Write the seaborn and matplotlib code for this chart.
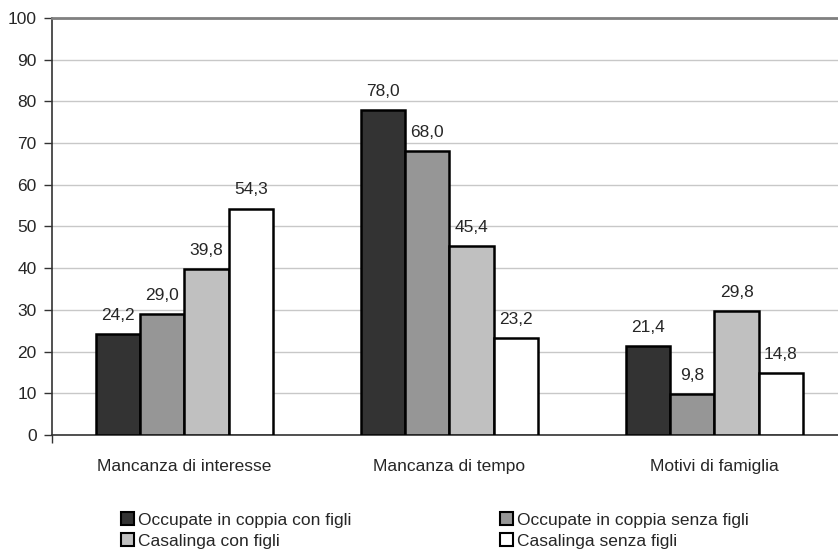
import matplotlib
matplotlib.use("Agg")
import matplotlib.pyplot as plt
import seaborn as sns
import pandas as pd
from matplotlib.patches import Patch

categorie = ["Mancanza di interesse", "Mancanza di tempo", "Motivi di famiglia"]
gruppi = ["Occupate in coppia con figli", "Occupate in coppia senza figli",
          "Casalinga con figli", "Casalinga senza figli"]
valori = {
    "Occupate in coppia con figli": [24.2, 78.0, 21.4],
    "Occupate in coppia senza figli": [29.0, 68.0, 9.8],
    "Casalinga con figli": [39.8, 45.4, 29.8],
    "Casalinga senza figli": [54.3, 23.2, 14.8],
}
colori = ["#333333", "#969696", "#c0c0c0", "#ffffff"]

righe = []
for g in gruppi:
    for c, v in zip(categorie, valori[g]):
        righe.append({"categoria": c, "gruppo": g, "valore": v})
df = pd.DataFrame(righe)

sns.set_style("white")
plt.rcParams["font.family"] = ["Liberation Sans", "DejaVu Sans"]
fs = 12.5

fig = plt.figure(figsize=(8.38, 5.55), dpi=100)
ax = fig.add_axes([0.062, 0.2162, 0.9487, 0.7514])

sns.barplot(data=df, x="categoria", y="valore", hue="gruppo", hue_order=gruppi,
            order=categorie, palette=colori, width=0.668, gap=0,
            edgecolor="black", linewidth=1.8, saturation=1, ax=ax,
            legend=False, zorder=3)

for cont in ax.containers:
    etichette = [f"{b.get_height():.1f}".replace(".", ",") for b in cont]
    ax.bar_label(cont, labels=etichette, padding=8, fontsize=fs)

ax.set_ylim(0, 100)
ax.set_xlim(-0.5, 2.5)
ax.set_yticks(range(0, 101, 10))
ax.yaxis.grid(True, color="#c8c8c8", linewidth=1, zorder=0)
ax.set_axisbelow(True)
ax.set_xlabel("")
ax.set_ylabel("")

ax.tick_params(axis="y", labelsize=fs, length=6, width=1, pad=5, left=True,
               color="#333333")
ax.tick_params(axis="x", labelsize=fs, length=0, pad=17)
ax.set_xticks([-0.5], minor=True)
ax.tick_params(axis="x", which="minor", length=6, width=1, bottom=True,
               color="#333333")

for s in ["left", "bottom"]:
    ax.spines[s].set_color("#333333")
    ax.spines[s].set_linewidth(1.2)
ax.spines["top"].set_color("#808080")
ax.spines["top"].set_linewidth(2)
ax.spines["right"].set_visible(False)

# legenda su due righe
handles = [Patch(facecolor=c, edgecolor="black", linewidth=1.5) for c in colori]
ordine = [0, 2, 1, 3]
fig.legend([handles[i] for i in ordine], [gruppi[i] for i in ordine],
           ncol=2, loc="upper left", bbox_to_anchor=(0.1445, 0.0766),
           frameon=False, fontsize=fs, handlelength=0.75, handleheight=0.75,
           handletextpad=0.2, labelspacing=0.3, columnspacing=8.6,
           borderaxespad=0, borderpad=0)

fig.savefig("out.png", dpi=100)
